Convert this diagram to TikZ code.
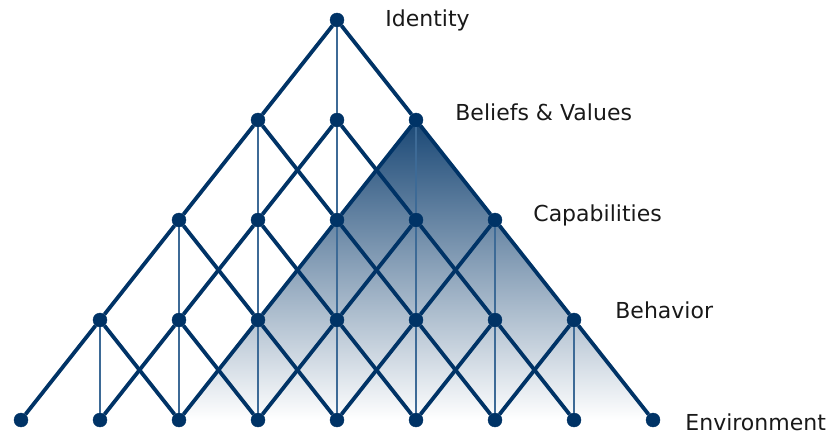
\documentclass[tikz,border=0pt]{standalone}
\usepackage{fontspec}
\setmainfont{DejaVu Sans}
\usetikzlibrary{positioning}
\definecolor{navy}{HTML}{003366}
\definecolor{paleNavy}{HTML}{3D6A96}
\tikzstyle{dot} = [draw=navy, fill=navy, circle, inner sep=0pt, minimum size=14pt]
\tikzstyle{vlink} = [draw=paleNavy, line width=2pt]
\tikzstyle{lbl} = [inner sep=0pt, text=black!90, font=\fontsize{22}{26}\selectfont]

\begin{document}
\begin{tikzpicture}[x=1pt,y=-1pt,every edge/.style={draw=navy, line width=3.8pt}]
\useasboundingbox (0,0) rectangle (831,436);

% shaded wedge
\shade[top color=navy!90, bottom color=white] (416,120) -- (653,420) -- (179,420) -- cycle;

\node[dot] (id) at (337,20) {};

\node[dot] (bv1) at (258,120) {};
\node[dot] (bv2) at (337,120) {};
\node[dot] (bv3) at (416,120) {};

\node[dot] (cap1) at (179,220) {};
\node[dot] (cap2) at (258,220) {};
\node[dot] (cap3) at (337,220) {};
\node[dot] (cap4) at (416,220) {};
\node[dot] (cap5) at (495,220) {};

\node[dot] (beh1) at (100,320) {};
\node[dot] (beh2) at (179,320) {};
\node[dot] (beh3) at (258,320) {};
\node[dot] (beh4) at (337,320) {};
\node[dot] (beh5) at (416,320) {};
\node[dot] (beh6) at (495,320) {};
\node[dot] (beh7) at (574,320) {};

\node[dot] (env1) at (21,420) {};
\node[dot] (env2) at (100,420) {};
\node[dot] (env3) at (179,420) {};
\node[dot] (env4) at (258,420) {};
\node[dot] (env5) at (337,420) {};
\node[dot] (env6) at (416,420) {};
\node[dot] (env7) at (495,420) {};
\node[dot] (env8) at (574,420) {};
\node[dot] (env9) at (653,420) {};

\path
(id) edge (bv1) edge [vlink] (bv2) edge (bv3)
(bv1) edge (cap1) edge [vlink] (cap2) edge (cap3)
(bv2) edge (cap2) edge [vlink] (cap3) edge (cap4)
(bv3) edge (cap3) edge [vlink] (cap4) edge (cap5)
(cap1) edge (beh1) edge [vlink] (beh2) edge (beh3)
(cap2) edge (beh2) edge [vlink] (beh3) edge (beh4)
(cap3) edge (beh3) edge [vlink] (beh4) edge (beh5)
(cap4) edge (beh4) edge [vlink] (beh5) edge (beh6)
(cap5) edge (beh5) edge [vlink] (beh6) edge (beh7)
(beh1) edge (env1) edge [vlink] (env2) edge (env3)
(beh2) edge (env2) edge [vlink] (env3) edge (env4)
(beh3) edge (env3) edge [vlink] (env4) edge (env5)
(beh4) edge (env4) edge [vlink] (env5) edge (env6)
(beh5) edge (env5) edge [vlink] (env6) edge (env7)
(beh6) edge (env6) edge [vlink] (env7) edge (env8)
(beh7) edge (env7) edge [vlink] (env8) edge (env9);

\node[lbl, right=41pt of id] (tId) {Identity};
\node[lbl, right=32pt of bv3, yshift=8pt] (tBv) {Beliefs \& Values};
\node[lbl, right=31pt of cap5, yshift=5pt] (tCap) {Capabilities};
\node[lbl, right=34pt of beh7, yshift=10pt] (tBeh) {Behavior};
\node[lbl, right=25pt of env9, yshift=-2pt] (tEnv) {Environment};
\end{tikzpicture}
\end{document}
